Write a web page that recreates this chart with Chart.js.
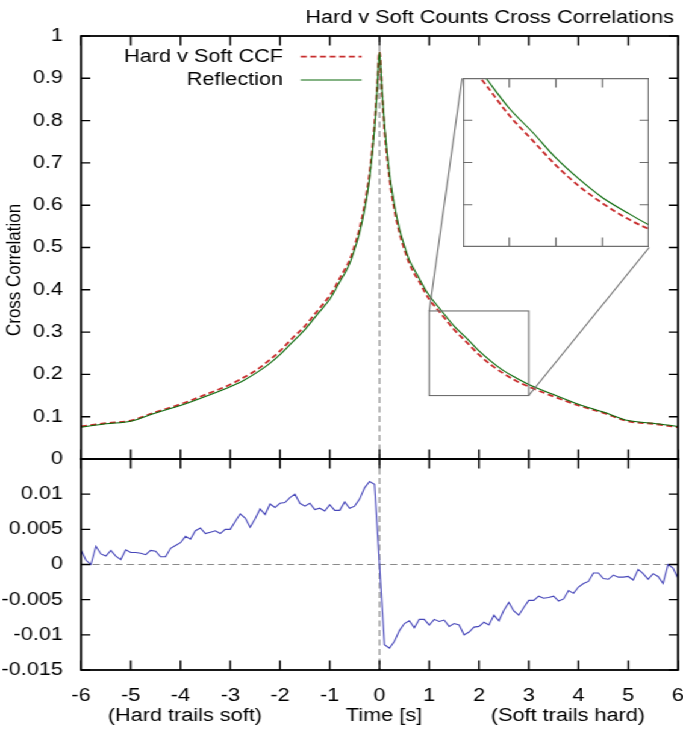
<!DOCTYPE html>
<html><head><meta charset="utf-8">
<script src="https://cdn.jsdelivr.net/npm/chart.js@4.4.1/dist/chart.umd.min.js"></script>
<style>
html,body{margin:0;padding:0;background:#fff;overflow:hidden;width:683px;height:738px;}
#stage{position:absolute;left:0;top:0;width:567px;height:738px;transform-origin:0 0;transform:scaleX(1.204586);}
#stage canvas{position:absolute;left:0;top:0;}
</style></head><body>
<div id="stage">
<canvas id="topC" width="567" height="738"></canvas>
<canvas id="botC" width="567" height="738"></canvas>
<canvas id="insC" width="151" height="169"></canvas>
</div>
<script>
// ---------- data ----------
const titleText = 'Hard v Soft Counts Cross Correlations';
const yTitleText = 'Cross Correlation';
const seriesNames = ['Hard v Soft CCF', 'Reflection', 'Difference'];
const xLabelParts = ['(Hard trails soft)', 'Time [s]', '(Soft trails hard)'];

const ccfTime = [-6,-5.5,-5,-4.5,-4,-3.5,-3,-2.75,-2.5,-2.25,-2,-1.75,-1.5,-1.25,-1,-0.9,-0.8,-0.7,-0.6,-0.5,-0.4,-0.3,-0.2,-0.1,-0.05,
  0,0.05,0.1,0.2,0.3,0.4,0.5,0.6,0.7,0.8,0.9,1,1.25,1.5,1.75,2,2.25,2.5,2.75,3,3.5,4,4.5,5,5.5,6];
const ccfValues = [0.077,0.0847,0.0908,0.111,0.1295,0.1522,0.176,0.1915,0.2083,0.2302,0.2554,0.2858,0.3142,0.350,0.3863,0.4049,0.4269,0.4475,0.470,0.5042,0.5447,0.6005,0.676,0.7907,0.873,
  0.962,0.867,0.7793,0.664,0.5895,0.5353,0.4958,0.462,0.4385,0.4191,0.3971,0.3777,0.342,0.3058,0.2762,0.2466,0.2218,0.2017,0.1845,0.171,0.1478,0.1265,0.109,0.0892,0.0833,0.075];
const reflValues = [0.075,0.0833,0.0892,0.109,0.1265,0.1478,0.171,0.1845,0.2017,0.2218,0.2466,0.2762,0.3058,0.342,0.3777,0.3971,0.4191,0.4385,0.462,0.4958,0.5353,0.5895,0.664,0.7793,0.867,
  0.962,0.873,0.7907,0.676,0.6005,0.5447,0.5042,0.470,0.4475,0.4269,0.4049,0.3863,0.350,0.3142,0.2858,0.2554,0.2302,0.2083,0.1915,0.176,0.1522,0.1295,0.111,0.0908,0.0847,0.077];

const diffTime = [-6,-5.9,-5.8,-5.7,-5.6,-5.5,-5.4,-5.3,-5.2,-5.1,-5,-4.9,-4.8,-4.7,-4.6,-4.5,-4.4,-4.3,-4.2,-4.1,
  -4,-3.9,-3.8,-3.7,-3.6,-3.5,-3.4,-3.3,-3.2,-3.1,-3,-2.9,-2.8,-2.7,-2.6,-2.5,-2.4,-2.3,-2.2,-2.1,
  -2,-1.9,-1.8,-1.7,-1.6,-1.5,-1.4,-1.3,-1.2,-1.1,-1,-0.9,-0.8,-0.7,-0.6,-0.5,-0.4,-0.3,-0.2,-0.1,
  0,0.1,0.2,0.3,0.4,0.5,0.6,0.7,0.8,0.9,1,1.1,1.2,1.3,1.4,1.5,1.6,1.7,1.8,1.9,
  2,2.1,2.2,2.3,2.4,2.5,2.6,2.7,2.8,2.9,3,3.1,3.2,3.3,3.4,3.5,3.6,3.7,3.8,3.9,
  4,4.1,4.2,4.3,4.4,4.5,4.6,4.7,4.8,4.9,5,5.1,5.2,5.3,5.4,5.5,5.6,5.7,5.8,5.9,6];
const diffValues = [0.0021,0.0006,0.0000,0.0026,0.0015,0.0012,0.0020,0.0012,0.0007,0.0021,0.0017,0.0017,0.0016,0.0014,0.0020,0.0019,0.0011,0.0011,0.0023,0.0027,
  0.0031,0.0040,0.0036,0.0048,0.0052,0.0044,0.0046,0.0048,0.0044,0.0050,0.0050,0.0061,0.0072,0.0066,0.0053,0.0065,0.0079,0.0071,0.0086,0.0081,
  0.0087,0.0088,0.0095,0.0100,0.0087,0.0083,0.0087,0.0078,0.0080,0.0076,0.0085,0.0077,0.0077,0.0089,0.0080,0.0083,0.0093,0.0109,0.0118,0.0114,
  0.0000,-0.0114,-0.0119,-0.0109,-0.0094,-0.0084,-0.0080,-0.0090,-0.0078,-0.0078,-0.0086,-0.0078,-0.0081,-0.0079,-0.0088,-0.0084,-0.0086,-0.0100,-0.0096,-0.0089,
  -0.0088,-0.0082,-0.0086,-0.0072,-0.0080,-0.0065,-0.0054,-0.0066,-0.0072,-0.0061,-0.0051,-0.0051,-0.0045,-0.0048,-0.0047,-0.0045,-0.0052,-0.0049,-0.0037,-0.0041,
  -0.0032,-0.0027,-0.0024,-0.0012,-0.0012,-0.0020,-0.0021,-0.0015,-0.0018,-0.0018,-0.0017,-0.0022,-0.0007,-0.0013,-0.0021,-0.0013,-0.0017,-0.0027,0.0000,-0.0005,-0.0020];

const xTickValues = [-6,-5,-4,-3,-2,-1,0,1,2,3,4,5,6];
const ccfTickValues = [0,0.1,0.2,0.3,0.4,0.5,0.6,0.7,0.8,0.9,1];
const diffTickValues = [-0.015,-0.01,-0.005,0,0.005,0.01,0.015];
const insetXTicks = [1.5,2,2.5];
const insetYTicks = [0.2,0.25,0.3];

const zoomWindow = {tMin: 1, tMax: 3, vMin: 0.15, vMax: 0.35};
const insetPlacement = {tMin: 1.66, tMax: 5.42, vMin: 0.5, vMax: 0.9};

// ---------- style ----------
const FONT = "'Liberation Sans', Arial, Helvetica, sans-serif";
const FS = 18;
const RED = 'rgb(200,45,45)';
const GREEN = 'rgb(10,105,10)';
const BLUE = 'rgb(70,70,185)';
const GRAYDASH = '#8a8a8a';
const Y_W = 67.24;
const PAD_R = 4.15;
const pts = (xs, ys) => xs.map((x, i) => ({x: x, y: ys[i]}));

function frame(ctx, area, xs, ys, xVals, yVals, o) {
  ctx.save();
  ctx.strokeStyle = o.color;
  ctx.lineWidth = o.tickWidth;
  ctx.setLineDash([]);
  ctx.beginPath();
  xVals.forEach(v => {
    const px = xs.getPixelForValue(v);
    ctx.moveTo(px, area.bottom); ctx.lineTo(px, area.bottom - o.lenV);
    ctx.moveTo(px, area.top); ctx.lineTo(px, area.top + o.lenV);
  });
  yVals.forEach(v => {
    const py = ys.getPixelForValue(v);
    ctx.moveTo(area.left, py); ctx.lineTo(area.left + o.lenH, py);
    ctx.moveTo(area.right, py); ctx.lineTo(area.right - o.lenH, py);
  });
  ctx.stroke();
  ctx.lineWidth = o.borderWidth;
  ctx.strokeRect(area.left, area.top, area.right - area.left, area.bottom - area.top);
  ctx.restore();
}

function dashLine(ctx, x1, y1, x2, y2) {
  ctx.save();
  ctx.strokeStyle = GRAYDASH; ctx.lineWidth = 1.2; ctx.setLineDash([6, 3.5]);
  ctx.beginPath(); ctx.moveTo(x1, y1); ctx.lineTo(x2, y2); ctx.stroke();
  ctx.restore();
}

const topDecor = {
  id: 'topDecor',
  beforeDatasetsDraw(chart) {
    const {ctx, chartArea: a, scales: {x}} = chart;
    const px = x.getPixelForValue(0);
    dashLine(ctx, px, a.top, px, a.bottom);
  },
  afterDatasetsDraw(chart) {
    const {ctx, chartArea: a, scales: {x, y}} = chart;
    // zoom window + connectors
    ctx.save();
    ctx.strokeStyle = '#6e6e6e'; ctx.lineWidth = 1.1;
    const zl = x.getPixelForValue(zoomWindow.tMin), zr = x.getPixelForValue(zoomWindow.tMax);
    const zt = y.getPixelForValue(zoomWindow.vMax), zb = y.getPixelForValue(zoomWindow.vMin);
    ctx.strokeRect(zl, zt, zr - zl, zb - zt);
    const il = x.getPixelForValue(insetPlacement.tMin), ir = x.getPixelForValue(insetPlacement.tMax);
    const it = y.getPixelForValue(insetPlacement.vMax), ib = y.getPixelForValue(insetPlacement.vMin);
    ctx.beginPath();
    ctx.moveTo(zl, zt); ctx.lineTo(il, it);
    ctx.moveTo(zr, zb); ctx.lineTo(ir, ib);
    ctx.stroke();
    ctx.restore();
    // legend
    ctx.save();
    ctx.font = FS + 'px ' + FONT;
    ctx.fillStyle = '#000'; ctx.textAlign = 'right'; ctx.textBaseline = 'middle';
    const rows = [a.top + 20.7, a.top + 44];
    [0, 1].forEach(i => {
      const ds = chart.data.datasets[i];
      ctx.fillText(ds.label, a.left + 167.7, rows[i]);
      ctx.strokeStyle = ds.borderColor; ctx.lineWidth = ds.borderWidth;
      ctx.setLineDash(ds.borderDash || []);
      ctx.beginPath(); ctx.moveTo(a.left + 182.4, rows[i]); ctx.lineTo(a.left + 233, rows[i]); ctx.stroke();
    });
    ctx.restore();
    frame(ctx, a, x, y, xTickValues, ccfTickValues, {color: '#000', tickWidth: 1.4, borderWidth: 1.8, lenV: 9.5, lenH: 7.7});
    // y title
    ctx.save();
    ctx.font = '17px ' + FONT; ctx.fillStyle = '#000';
    ctx.textAlign = 'center'; ctx.textBaseline = 'middle';
    ctx.translate(12.5, a.top + (a.bottom - a.top) * 0.553);
    ctx.rotate(-Math.PI / 2);
    ctx.fillText(yTitleText, 0, 0);
    ctx.restore();
    // chart title
    ctx.save();
    ctx.font = FS + 'px ' + FONT; ctx.fillStyle = '#000';
    ctx.textAlign = 'right'; ctx.textBaseline = 'middle';
    ctx.fillText(titleText, a.right - 3.3, 18.5);
    ctx.restore();
  }
};

const botDecor = {
  id: 'botDecor',
  beforeDatasetsDraw(chart) {
    const {ctx, chartArea: a, scales: {x, y}} = chart;
    const px = x.getPixelForValue(0), py = y.getPixelForValue(0);
    dashLine(ctx, px, a.top, px, a.bottom);
    dashLine(ctx, a.left, py, a.right, py);
  },
  afterDatasetsDraw(chart) {
    const {ctx, chartArea: a, scales: {x, y}} = chart;
    frame(ctx, a, x, y, xTickValues, diffTickValues, {color: '#000', tickWidth: 1.4, borderWidth: 1.8, lenV: 9.5, lenH: 7.7});
    ctx.save();
    ctx.font = FS + 'px ' + FONT; ctx.fillStyle = '#000';
    ctx.textAlign = 'center'; ctx.textBaseline = 'middle';
    const anchors = [-3.91, 0.09, 3.79];
    xLabelParts.forEach((s, i) => ctx.fillText(s, x.getPixelForValue(anchors[i]), a.bottom + 46));
    ctx.restore();
  }
};

const insetDecor = {
  id: 'insetDecor',
  beforeDraw(chart) {
    const {ctx, width, height} = chart;
    ctx.save(); ctx.fillStyle = '#fff'; ctx.fillRect(0, 0, width, height); ctx.restore();
  },
  afterDatasetsDraw(chart) {
    const {ctx, chartArea: a, scales: {x, y}} = chart;
    const inner = {left: a.left + 0.6, right: a.right - 0.6, top: a.top + 0.6, bottom: a.bottom - 0.6};
    frame(ctx, inner, x, y, insetXTicks, insetYTicks, {color: '#6e6e6e', tickWidth: 1.2, borderWidth: 1.3, lenV: 9, lenH: 7.5});
  }
};

const fitY = s => { s.width = Y_W; s.paddingTop = 0; s.paddingBottom = 0; };

const ccfDatasets = () => [
  {label: seriesNames[0], data: pts(ccfTime, ccfValues), borderColor: RED, borderWidth: 1.8, borderDash: [5, 3],
   pointRadius: 0, cubicInterpolationMode: 'monotone', order: 2, fill: false},
  {label: seriesNames[1], data: pts(ccfTime, reflValues), borderColor: GREEN, borderWidth: 1.1,
   pointRadius: 0, cubicInterpolationMode: 'monotone', order: 1, fill: false}
];

// ---------- top panel ----------
const topChart = new Chart(document.getElementById('topC'), {
  type: 'line',
  data: {datasets: ccfDatasets()},
  options: {
    responsive: false, animation: false, devicePixelRatio: 1,
    layout: {padding: {left: 0, right: PAD_R, top: 36, bottom: 279}},
    plugins: {legend: {display: false}, tooltip: {enabled: false}, title: {display: false}},
    scales: {
      x: {type: 'linear', min: -6, max: 6, ticks: {display: false, stepSize: 1}, grid: {display: false}, border: {display: false},
          afterFit: s => { s.height = 0; s.paddingLeft = 0; s.paddingRight = 0; }},
      y: {type: 'linear', min: 0, max: 1, grid: {display: false}, border: {display: false},
          ticks: {stepSize: 0.1, autoSkip: false, padding: 7, color: '#000', font: {family: FONT, size: FS},
                  callback: v => String(Math.round(v * 10) / 10)},
          afterFit: fitY}
    }
  },
  plugins: [topDecor]
});

// ---------- bottom panel ----------
new Chart(document.getElementById('botC'), {
  type: 'line',
  data: {datasets: [
    {label: seriesNames[2], data: pts(diffTime, diffValues), borderColor: BLUE, borderWidth: 1.1, pointRadius: 0, tension: 0, fill: false}
  ]},
  options: {
    responsive: false, animation: false, devicePixelRatio: 1,
    layout: {padding: {left: 0, right: PAD_R, top: 459, bottom: 0}},
    plugins: {legend: {display: false}, tooltip: {enabled: false}},
    scales: {
      x: {type: 'linear', min: -6, max: 6, grid: {display: false}, border: {display: false},
          ticks: {stepSize: 1, autoSkip: false, maxRotation: 0, padding: 7, color: '#000', font: {family: FONT, size: FS},
                  callback: v => String(v)},
          afterFit: s => { s.height = 68; s.paddingLeft = 0; s.paddingRight = 0; }},
      y: {type: 'linear', min: -0.015, max: 0.015, grid: {display: false}, border: {display: false},
          ticks: {stepSize: 0.005, autoSkip: false, padding: 7, color: '#000', font: {family: FONT, size: FS},
                  callback: v => (Math.abs(v - 0.015) < 1e-9 ? '' : String(Math.round(v * 1000) / 1000))},
          afterFit: fitY}
    }
  },
  plugins: [botDecor]
});

// ---------- inset ----------
(function () {
  const xs = topChart.scales.x, ys = topChart.scales.y;
  const L = xs.getPixelForValue(insetPlacement.tMin), R = xs.getPixelForValue(insetPlacement.tMax);
  const T = ys.getPixelForValue(insetPlacement.vMax), B = ys.getPixelForValue(insetPlacement.vMin);
  const c = document.getElementById('insC');
  c.width = Math.round(R - L); c.height = Math.round(B - T);
  c.style.left = L + 'px'; c.style.top = T + 'px';
  c.style.width = Math.round(R - L) + 'px'; c.style.height = Math.round(B - T) + 'px';
  new Chart(c, {
    type: 'line',
    data: {datasets: ccfDatasets()},
    options: {
      responsive: false, animation: false, devicePixelRatio: 1,
      layout: {padding: 0},
      plugins: {legend: {display: false}, tooltip: {enabled: false}},
      scales: {
        x: {type: 'linear', display: false, min: zoomWindow.tMin, max: zoomWindow.tMax},
        y: {type: 'linear', display: false, min: zoomWindow.vMin, max: zoomWindow.vMax}
      }
    },
    plugins: [insetDecor]
  });
})();
</script>
</body></html>
